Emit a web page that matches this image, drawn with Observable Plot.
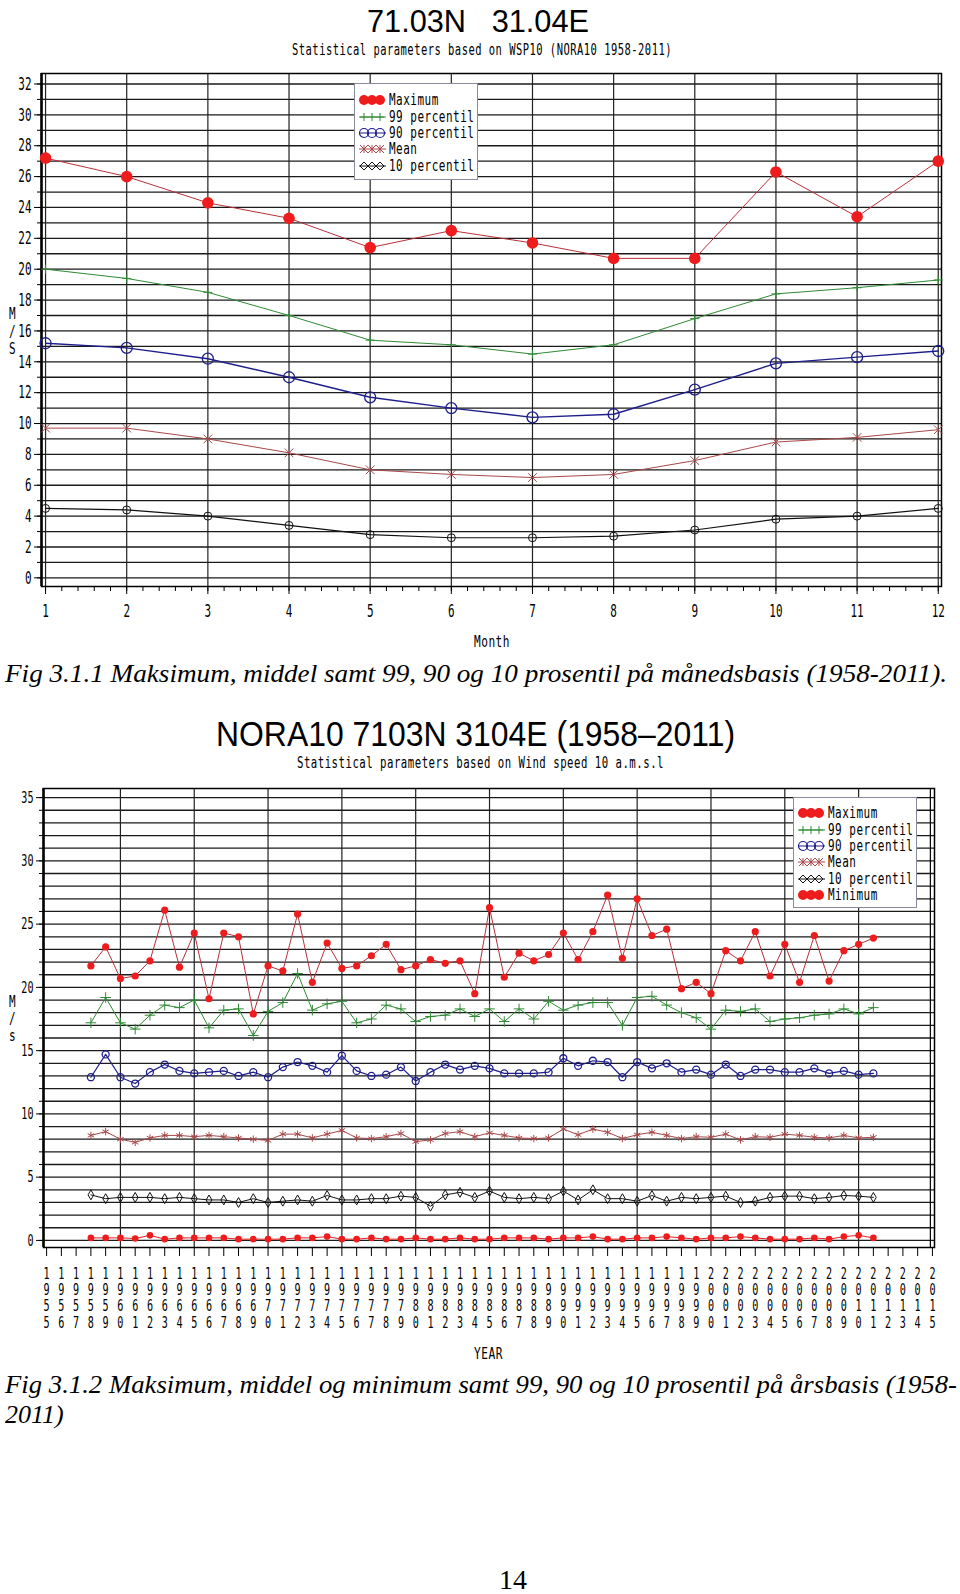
<!DOCTYPE html>
<html><head><meta charset="utf-8">
<script src="https://cdn.jsdelivr.net/npm/d3@7"></script>
<script src="https://cdn.jsdelivr.net/npm/@observablehq/plot@0.6"></script>
<style>
body{margin:0;background:#fff;width:960px;height:1594px;position:relative;overflow:hidden}
.abs{position:absolute;white-space:nowrap;color:#000}
.sans{font-family:"Liberation Sans",Arial,sans-serif}
.mono{font-family:"DejaVu Sans Mono","Liberation Mono",monospace;font-size:11px;letter-spacing:0.5px}
.serif{font-family:"Liberation Serif","Times New Roman",serif}
.ital{font-style:italic}
.legend{position:absolute;background:#fff;border:1px solid #8a8a9a;box-sizing:border-box}
.chart{position:absolute;left:0}
</style></head><body>
<script>
// ---------- DATA: monthly statistics (Fig 3.1.1) ----------
const months    = [1,2,3,4,5,6,7,8,9,10,11,12];
const monthMax  = [27.2, 26.0, 24.3, 23.3, 21.4, 22.5, 21.7, 20.7, 20.7, 26.3, 23.4, 27.0];
const monthP99  = [20.0, 19.4, 18.5, 17.0, 15.4, 15.1, 14.5, 15.1, 16.8, 18.4, 18.8, 19.3];
const monthP90  = [15.2, 14.9, 14.2, 13.0, 11.7, 11.0, 10.4, 10.6, 12.2, 13.9, 14.3, 14.7];
const monthMean = [9.7, 9.7, 9.0, 8.1, 7.0, 6.7, 6.5, 6.7, 7.6, 8.8, 9.1, 9.6];
const monthP10  = [4.5, 4.4, 4.0, 3.4, 2.8, 2.6, 2.6, 2.7, 3.1, 3.8, 4.0, 4.5];

// ---------- DATA: yearly statistics (Fig 3.1.2) ----------
const years = [1958,1959,1960,1961,1962,1963,1964,1965,1966,1967,
               1968,1969,1970,1971,1972,1973,1974,1975,1976,1977,
               1978,1979,1980,1981,1982,1983,1984,1985,1986,1987,
               1988,1989,1990,1991,1992,1993,1994,1995,1996,1997,
               1998,1999,2000,2001,2002,2003,2004,2005,2006,2007,
               2008,2009,2010,2011];
const yearMax  = [21.7,23.2,20.7,20.9,22.1,26.1,21.6,24.3,19.1,24.3,
                  24.0,17.9,21.7,21.3,25.8,20.4,23.5,21.5,21.7,22.5,
                  23.4,21.4,21.7,22.2,21.9,22.1,19.5,26.3,20.8,22.7,
                  22.1,22.6,24.3,22.2,24.4,27.3,22.3,27.0,24.1,24.6,
                  19.9,20.4,19.5,22.9,22.1,24.4,20.9,23.4,20.4,24.1,
                  20.5,22.9,23.4,23.9];
const yearP99  = [17.2,19.2,17.2,16.7,17.8,18.6,18.4,19.0,16.8,18.2,
                  18.3,16.2,18.1,18.8,21.1,18.2,18.7,18.9,17.2,17.5,
                  18.6,18.3,17.3,17.7,17.8,18.3,17.7,18.3,17.3,18.3,
                  17.5,18.9,18.2,18.6,18.8,18.8,17.0,19.2,19.3,18.6,
                  18.0,17.6,16.7,18.2,18.1,18.3,17.3,17.5,17.6,17.8,
                  17.9,18.3,17.9,18.4];
const yearP90  = [12.9,14.7,12.9,12.4,13.3,13.9,13.4,13.2,13.3,13.4,
                  13.0,13.3,12.9,13.7,14.1,13.8,13.3,14.6,13.4,13.0,
                  13.1,13.7,12.6,13.3,13.9,13.5,13.8,13.6,13.2,13.2,
                  13.2,13.3,14.4,13.8,14.2,14.1,12.9,14.1,13.6,14.0,
                  13.3,13.5,13.1,13.9,13.0,13.5,13.5,13.3,13.3,13.6,
                  13.2,13.4,13.1,13.2];
const yearMean = [8.3,8.6,8.0,7.75,8.1,8.3,8.3,8.2,8.3,8.2,
                  8.1,8.0,7.9,8.4,8.4,8.1,8.4,8.7,8.1,8.05,
                  8.2,8.45,7.8,7.95,8.45,8.6,8.2,8.5,8.3,8.1,
                  8.05,8.1,8.8,8.35,8.8,8.55,8.05,8.35,8.55,8.3,
                  8.05,8.2,8.15,8.4,7.95,8.2,8.15,8.4,8.3,8.15,
                  8.1,8.3,8.1,8.15];
const yearP10  = [3.6,3.3,3.4,3.4,3.4,3.3,3.4,3.3,3.2,3.2,
                  3.0,3.3,3.0,3.1,3.2,3.1,3.55,3.2,3.2,3.3,
                  3.3,3.5,3.4,2.7,3.6,3.8,3.4,3.9,3.4,3.3,
                  3.4,3.3,3.9,3.2,4.0,3.3,3.3,3.1,3.55,3.1,
                  3.4,3.3,3.4,3.5,3.0,3.1,3.4,3.5,3.5,3.3,
                  3.4,3.55,3.5,3.4];
const yearMin  = [0.2,0.2,0.2,0.15,0.4,0.1,0.2,0.2,0.2,0.2,
                  0.1,0.1,0.1,0.1,0.2,0.2,0.3,0.1,0.1,0.2,
                  0.1,0.1,0.2,0.1,0.1,0.2,0.1,0.1,0.2,0.2,
                  0.2,0.1,0.2,0.2,0.3,0.1,0.1,0.2,0.2,0.3,
                  0.2,0.1,0.2,0.2,0.3,0.2,0.1,0.1,0.1,0.2,
                  0.1,0.3,0.4,0.2];

// ---------- tick labels ----------
const topYTicks   = [0,2,4,6,8,10,12,14,16,18,20,22,24,26,28,30,32];
const topXTicks   = months;
const botYTicks   = [0,5,10,15,20,25,30,35];
const yearTicks   = d3.range(1955, 2016);
const yearGrid    = [1960,1965,1970,1975,1980,1985,1990,1995,2000,2005,2010];

// ---------- texts ----------
const legendTop = [["max","Maximum"],["p99","99 percentil"],["p90","90 percentil"],["mean","Mean"],["p10","10 percentil"]];
const legendBot = [["max","Maximum"],["p99","99 percentil"],["p90","90 percentil"],["mean","Mean"],["p10","10 percentil"],["min","Minimum"]];

// ---------- styles ----------
const RED = "#ee1c1c", REDLINE = "#b8303a", GREEN = "#2f8a34", NAVY = "#1e1e8c", BROWN = "#a84848", BLACK = "#111";

function place(text, o) {
  const el = document.createElement('div');
  el.className = 'abs ' + (o.cls || '');
  el.textContent = text;
  el.style.left = o.x + 'px'; el.style.top = o.y + 'px';
  if (o.size) { el.style.fontSize = o.size + 'px'; }
  el.style.lineHeight = (o.lh || o.size || 11) + 'px';
  document.body.appendChild(el);
  const w = el.getBoundingClientRect().width;
  const sx = o.w ? o.w / w : 1;
  el.style.transformOrigin = '0 0';
  el.style.transform = `scale(${sx},${o.sy || 1})`;
  return el;
}

function squeeze(svg, perChar) {
  svg.querySelectorAll('g[aria-label$="tick label"] text').forEach(t => {
    const tsp = t.querySelectorAll('tspan');
    const set = (e) => { e.setAttribute('textLength', e.textContent.length * perChar); e.setAttribute('lengthAdjust', 'spacingAndGlyphs'); };
    if (tsp.length) tsp.forEach(set); else set(t);
  });
}

function symbolSVG(kind) {
  const xs = [5, 13, 21];
  let s = `<svg width="28" height="14" style="position:absolute;left:4px;top:-7px;overflow:visible">`;
  if (kind === "max" || kind === "min") {
    xs.forEach(x => s += `<circle cx="${x}" cy="7" r="5" fill="${RED}"/>`);
  } else {
    const col = {p99: GREEN, p90: NAVY, mean: BROWN, p10: BLACK}[kind];
    s += `<line x1="0" y1="7" x2="27" y2="7" stroke="${col}" stroke-width="1"/>`;
    xs.forEach(x => {
      if (kind === "p99") s += `<path d="M${x-4},7h8M${x},3v8" stroke="${col}" stroke-width="1"/>`;
      if (kind === "p90") s += `<circle cx="${x}" cy="7" r="4.5" fill="none" stroke="${col}" stroke-width="1.2"/>`;
      if (kind === "mean") s += `<path d="M${x-4},3L${x+4},11M${x-4},11L${x+4},3M${x},3v8" stroke="${col}" stroke-width="1"/>`;
      if (kind === "p10") s += `<path d="M${x-4},7L${x},3L${x+4},7L${x},11Z" fill="none" stroke="${col}" stroke-width="1"/>`;
    });
  }
  return s + `</svg>`;
}

function legend(x, y, w, h, first, items) {
  const box = document.createElement('div');
  box.className = 'legend';
  Object.assign(box.style, {left: x + 'px', top: y + 'px', width: w + 'px', height: h + 'px'});
  items.forEach(([kind, label], i) => {
    const row = document.createElement('div');
    row.style.position = 'absolute'; row.style.left = '0px'; row.style.top = (first + i * 16.3) + 'px';
    row.innerHTML = symbolSVG(kind);
    const t = document.createElement('div');
    t.className = 'abs mono'; t.textContent = label;
    t.style.left = '34px'; t.style.top = '-8px'; t.style.lineHeight = '11px';
    t.style.transformOrigin = '0 0'; t.style.transform = 'scale(1,1.45)';
    row.appendChild(t);
    box.appendChild(row);
  });
  document.body.appendChild(box);
}

function series(rows, key, s) {
  return [
    Plot.line(rows, {x: "x", y: key, stroke: s.line, strokeWidth: s.lw || 1}),
    Plot.dot(rows, {x: "x", y: key, symbol: s.symbol, r: s.r, fill: s.fill || "none", stroke: s.stroke || "none", strokeWidth: s.sw || 1})
  ];
}

// ---------- TOP CHART ----------
const topRows = months.map((m, i) => ({x: m, max: monthMax[i], p99: monthP99[i], p90: monthP90[i], mean: monthMean[i], p10: monthP10[i]}));
const topPlot = Plot.plot({
  width: 960, height: 557, marginTop: 4, marginBottom: 40, marginLeft: 41, marginRight: 19,
  x: {domain: [0.95, 12.04]}, y: {domain: [-0.56, 32.68]},
  style: {background: "transparent", fontFamily: "DejaVu Sans Mono, monospace", fontSize: "18px", color: "#000"},
  marks: [
    Plot.ruleY(d3.range(0, 33), {stroke: "#1a1a1a", strokeWidth: 1.3}),
    Plot.ruleX(topXTicks, {stroke: "#222", strokeWidth: 1.2}),
    Plot.frame({stroke: "#000", strokeWidth: 1.5}),
    Plot.ruleX([0.95], {stroke: "#000", strokeWidth: 2.5}),
    Plot.axisY(topYTicks, {tickSize: 7, tickPadding: 3, label: null}),
    Plot.axisY(d3.range(0, 33), {tickSize: 4, text: null, label: null}),
    Plot.axisX(d3.range(1, 12.001, 0.2), {tickSize: 5, text: null, label: null}),
    Plot.axisX(topXTicks, {tickSize: 8, tickPadding: 10, label: null}),
    ...series(topRows, "p10", {line: BLACK, lw: 1.2, symbol: "circle", r: 4, stroke: BLACK}),
    ...series(topRows, "mean", {line: BROWN, symbol: "times", r: 4, stroke: BROWN}),
    ...series(topRows, "p90", {line: NAVY, lw: 1.4, symbol: "circle", r: 5.5, stroke: NAVY, sw: 1.3}),
    ...series(topRows, "p99", {line: GREEN, symbol: "plus", r: 3, stroke: GREEN}),
    ...series(topRows, "max", {line: REDLINE, symbol: "circle", r: 5.8, fill: RED})
  ]
});
squeeze(topPlot, 6.6);
const topDiv = document.createElement('div'); topDiv.className = 'chart'; topDiv.style.top = '69px';
topDiv.appendChild(topPlot); document.body.appendChild(topDiv);

// ---------- BOTTOM CHART ----------
const botRows = years.map((y, i) => ({x: y, max: yearMax[i], p99: yearP99[i], p90: yearP90[i], mean: yearMean[i], p10: yearP10[i], min: yearMin[i]}));
const botPlot = Plot.plot({
  width: 960, height: 563, marginTop: 9, marginBottom: 95, marginLeft: 43, marginRight: 26,
  x: {domain: [1954.79, 2015.14]}, y: {domain: [-0.56, 35.72]},
  style: {background: "transparent", fontFamily: "DejaVu Sans Mono, monospace", fontSize: "16px", color: "#000"},
  marks: [
    Plot.ruleY(d3.range(0, 36), {stroke: "#1a1a1a", strokeWidth: 1.3}),
    Plot.ruleX(yearGrid, {stroke: "#222", strokeWidth: 1.2}),
    Plot.frame({stroke: "#000", strokeWidth: 1.5}),
    Plot.ruleX([1954.79], {stroke: "#000", strokeWidth: 2.5}),
    Plot.ruleX([2014.86], {stroke: "#000", strokeWidth: 1.2}),
    Plot.axisY(botYTicks, {tickSize: 7, tickPadding: 3, label: null}),
    Plot.axisY(d3.range(0, 36), {tickSize: 4, text: null, label: null}),
    Plot.axisX(yearTicks, {tickSize: 9, tickPadding: 10.5, label: null, lineHeight: 1.02,
      tickFormat: d => String(d).split("").join("\n")}),
    ...series(botRows, "min", {line: RED, symbol: "circle", r: 3.3, fill: RED}),
    ...series(botRows, "p10", {line: BLACK, symbol: "diamond", r: 3, stroke: BLACK}),
    ...series(botRows, "mean", {line: BROWN, symbol: "asterisk", r: 3.5, stroke: BROWN}),
    ...series(botRows, "p90", {line: NAVY, lw: 1.2, symbol: "circle", r: 3.5, stroke: NAVY, sw: 1.3}),
    ...series(botRows, "p99", {line: GREEN, symbol: "plus", r: 3.5, stroke: GREEN}),
    ...series(botRows, "max", {line: REDLINE, symbol: "circle", r: 3.6, fill: RED})
  ]
});
squeeze(botPlot, 6.1);
const botDiv = document.createElement('div'); botDiv.className = 'chart'; botDiv.style.top = '779px';
botDiv.appendChild(botPlot); document.body.appendChild(botDiv);

// ---------- TEXTS ----------
place("71.03N\u00a0\u00a0\u00a031.04E", {cls: "sans", x: 367, y: 6, size: 31, w: 222});
place("Statistical parameters based on WSP10 (NORA10 1958-2011)", {cls: "mono", x: 292, y: 42, w: 380, sy: 1.45});
place("M", {cls: "mono", x: 9, y: 307, lh: 10, sy: 1.45});
place("/", {cls: "mono", x: 9, y: 325, lh: 10, sy: 1.45});
place("S", {cls: "mono", x: 9, y: 342, lh: 10, sy: 1.45});
place("Month", {cls: "mono", x: 474, y: 634, w: 36, sy: 1.45});
legend(354, 83, 124, 97, 16.3, legendTop);
place("Fig 3.1.1 Maksimum, middel samt 99, 90 og 10 prosentil på månedsbasis (1958-2011).", {cls: "serif ital", x: 5, y: 661, size: 26, w: 942});

place("NORA10 7103N 3104E (1958\u20132011)", {cls: "sans", x: 216, y: 716, size: 35, w: 519});
place("Statistical parameters based on Wind speed 10 a.m.s.l", {cls: "mono", x: 297, y: 755, w: 367, sy: 1.45});
place("M", {cls: "mono", x: 9, y: 995, lh: 10, sy: 1.45});
place("/", {cls: "mono", x: 9, y: 1012, lh: 10, sy: 1.45});
place("s", {cls: "mono", x: 9, y: 1029, lh: 10, sy: 1.45});
legend(793, 797, 124, 111, 15.3, legendBot);
place("YEAR", {cls: "mono", x: 474, y: 1346, w: 29, sy: 1.45});
place("Fig 3.1.2 Maksimum, middel og minimum samt 99, 90 og 10 prosentil på årsbasis (1958-", {cls: "serif ital", x: 5, y: 1372, size: 26, w: 952});
place("2011)", {cls: "serif ital", x: 5, y: 1402, size: 26});
place("14", {cls: "serif", x: 499, y: 1569, size: 28, lh: 22});
</script>
</body></html>
